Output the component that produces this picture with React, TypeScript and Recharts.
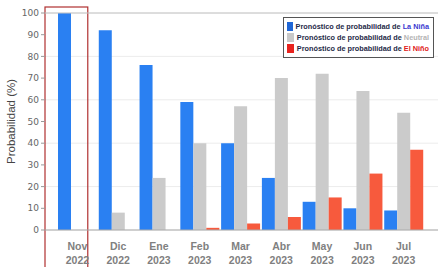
import React from 'react';
import { BarChart, Bar, XAxis, YAxis, CartesianGrid, ReferenceArea, ReferenceLine } from 'recharts';

const months = ['Nov', 'Dic', 'Ene', 'Feb', 'Mar', 'Abr', 'May', 'Jun', 'Jul'];
const years = ['2022', '2022', '2023', '2023', '2023', '2023', '2023', '2023', '2023'];
const laNina = [100, 92, 76, 59, 40, 24, 13, 10, 9];
const neutral = [0, 8, 24, 40, 57, 70, 72, 64, 54];
const elNino = [0, 0, 0, 1, 3, 6, 15, 26, 37];
const yTicks = [0, 10, 20, 30, 40, 50, 60, 70, 80, 90, 100];
const legendPrefix = 'Pronóstico de probabilidad de ';
const legendItems = [
  { name: 'La Niña', swatch: '#1f66d6', text: '#3a3ad0' },
  { name: 'Neutral', swatch: '#c9c9c9', text: '#b5b5b5' },
  { name: 'El Niño', swatch: '#e8231e', text: '#e02020' },
];

const data = months.map((m, i) => ({
  key: m + ' ' + years[i],
  laNina: laNina[i],
  neutral: neutral[i],
  elNino: elNino[i],
}));

const XTick = (props: any) => {
  const { x, y, index } = props;
  return (
    <g transform={`translate(${x},${y})`}>
      <text textAnchor="middle" fill="#808080" fontSize={10.5} fontWeight={700} fontFamily="Liberation Sans, Arial, sans-serif">
        <tspan x={0} dy={12}>{months[index]}</tspan>
        <tspan x={0} dy={14}>{years[index]}</tspan>
      </text>
    </g>
  );
};

const YLabel = (props: any) => {
  const vb = props.viewBox || { x: 0, y: 13, height: 217 };
  const cx = 11;
  const cy = vb.y + vb.height / 2;
  return (
    <text x={cx} y={cy} transform={`rotate(-90, ${cx}, ${cy})`} textAnchor="middle" dominantBaseline="central"
      fill="#444" fontSize={11.5} fontFamily="Liberation Sans, Arial, sans-serif">
      Probabilidad (%)
    </text>
  );
};

const RedBox = (props: any) => {
  const { x, y, width, height } = props;
  return (
    <rect x={x - 12} y={y - 6} width={width + 2} height={height + 6 + 40} fill="none" stroke="#b03030" strokeWidth={1.2} />
  );
};

const LegendBox = () => (
  <div style={{
    position: 'absolute', top: 17, left: 283,
    border: '1.5px solid #555', background: '#fff', padding: '3px 4px 3px 3px', width: 142,
    fontFamily: 'Liberation Sans Narrow, Liberation Sans, Arial, sans-serif', fontSize: 7.3, fontWeight: 700,
  }}>
    {legendItems.map((it) => (
      <div key={it.name} style={{ display: 'flex', alignItems: 'center', height: 11 }}>
        <span style={{ display: 'inline-block', width: 10, height: 9, background: it.swatch, marginRight: 3 }} />
        <span style={{ color: '#1e2a48', whiteSpace: 'nowrap' }}>
          {legendPrefix}<span style={{ color: it.text }}>{it.name}</span>
        </span>
      </div>
    ))}
  </div>
);

export default function App() {
  return (
    <div style={{ position: 'absolute', left: 0, top: 0, width: 438, height: 267, background: '#fff' }}>
      <BarChart width={438} height={267} data={data} margin={{ top: 13, right: 0, bottom: 0, left: 0 }}
        barSize={13} barGap={0}>
        <CartesianGrid vertical={false} stroke="#ececec" />
        <XAxis dataKey="key" tick={<XTick />} tickLine={false} axisLine={{ stroke: '#aaa' }}
          padding={{ left: 12, right: 14 }} interval={0} height={37} />
        <YAxis domain={[0, 100]} ticks={yTicks} width={45} axisLine={false} tickSize={4}
          tickLine={{ stroke: '#999' }} tick={{ fill: '#666', fontSize: 9, fontFamily: 'DejaVu Sans, sans-serif' }}
          label={<YLabel />} />
        <ReferenceLine y={100} stroke="#c4c4c4" strokeWidth={1.2} />
        <ReferenceArea x1={data[0].key} x2={data[0].key} y1={0} y2={100} ifOverflow="visible" shape={<RedBox />} />
        <Bar dataKey="laNina" fill="#2a80f2" isAnimationActive={false} />
        <Bar dataKey="neutral" fill="#cbcbcb" isAnimationActive={false} />
        <Bar dataKey="elNino" fill="#f75a3d" isAnimationActive={false} />
      </BarChart>
      <LegendBox />
    </div>
  );
}
